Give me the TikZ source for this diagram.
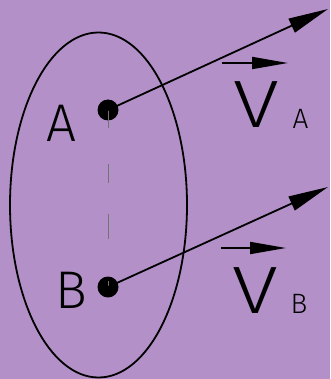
\documentclass[tikz,border=0pt]{standalone}
\usepackage{fontspec}
\usetikzlibrary{arrows.meta}
\newfontfamily\cadfont{Fira Sans Light}
\definecolor{bgpurple}{RGB}{179,144,200}

\begin{document}
\begin{tikzpicture}[x=1pt,y=-1pt,line width=1.8pt,
        point/.style={circle,fill=black,inner sep=0pt,minimum size=21pt},
        letter/.style={anchor=base,inner sep=0pt,font=\cadfont\fontsize{53}{53}\selectfont},
        vecletter/.style={anchor=base,inner sep=0pt,xscale=1.25,transform shape,font=\cadfont\fontsize{67}{67}\selectfont},
        subletter/.style={anchor=base,inner sep=0pt,font=\cadfont\fontsize{28}{28}\selectfont},
        velo/.style={-{Triangle[length=40pt,width=15pt]}},
        overvec/.style={-{Triangle[length=36pt,width=12pt]}}]
        \fill[bgpurple] (0,0) rectangle (330,379);
        \useasboundingbox (0,0) rectangle (330,379);

        \draw (98.5,205) ellipse [x radius=88.5pt, y radius=172.5pt];

        \node (dotA) [point] at (108,110) {};
        \node (dotB) [point] at (108,287) {};
        \node (labA) [letter] at (61.5,142) {A};
        \node (labB) [letter] at (71,308) {B};
        \draw[black!55, line width=0.6pt, dash pattern=on 18pt off 36pt on 19pt off 31pt on 25pt off 42pt on 10pt] (dotA.center) -- (dotB.center);

        \coordinate (tipA) at (328,9);
        \coordinate (tipB) at (328,187);
        \draw[velo] (dotA.center) -- (tipA);
        \draw[velo] (dotB.center) -- (tipB);

        \node (vA) [vecletter] at (256.5,128) {V};
        \node (subA) [subletter] at (300.5,129) {A};
        \coordinate (vAl) at (222,63);
        \coordinate (vAr) at (288,63);
        \draw[overvec] (vAl) -- (vAr);

        \node (vB) [vecletter] at (255,313) {V};
        \node (subB) [subletter] at (299,313) {B};
        \coordinate (vBl) at (221,248);
        \coordinate (vBr) at (286,248);
        \draw[overvec] (vBl) -- (vBr);
    \end{tikzpicture}
\end{document}
